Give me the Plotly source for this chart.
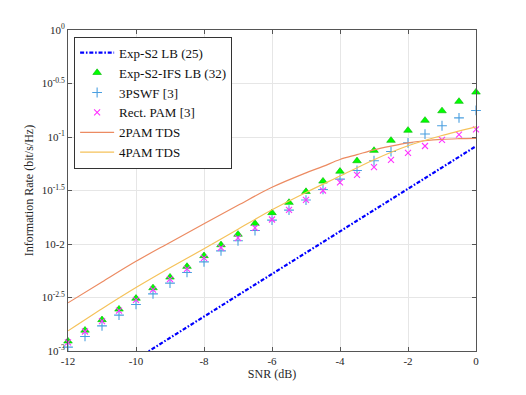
import plotly.graph_objects as go

# SNR grid for the marker series (dB)
snr_pts = [-12, -11.5, -11, -10.5, -10, -9.5, -9, -8.5, -8, -7.5, -7, -6.5, -6,
           -5.5, -5, -4.5, -4, -3.5, -3, -2.5, -2, -1.5, -1, -0.5, 0]

ifs_lb = [0.001236, 0.001563, 0.001959, 0.002460, 0.003105, 0.003890, 0.004898,
          0.006166, 0.007762, 0.009817, 0.01230, 0.01556, 0.01959, 0.02443,
          0.03090, 0.03864, 0.04775, 0.05984, 0.07482, 0.09290, 0.1153, 0.1429,
          0.1754, 0.2148, 0.2624]

pswf3 = [0.001086, 0.001368, 0.001718, 0.002163, 0.002723, 0.003420, 0.004305,
         0.005420, 0.006808, 0.008630, 0.01072, 0.01337, 0.01671, 0.02075,
         0.02576, 0.03236, 0.04036, 0.04864, 0.05998, 0.07311, 0.08831, 0.1066,
         0.1274, 0.1510, 0.1770]

rect_pam = [0.001202, 0.001521, 0.001901, 0.002388, 0.002999, 0.003741, 0.004688,
            0.005861, 0.007430, 0.009268, 0.01143, 0.01416, 0.01694, 0.02089,
            0.02588, 0.03162, 0.03758, 0.04416, 0.05224, 0.06124, 0.07112, 0.08241,
            0.09419, 0.1054, 0.1178]

# 2PAM TDS curve (denser where it bends)
snr_2pam = [-12, -11, -10, -9, -8, -7, -6, -5, -4.5, -4, -3.5, -3, -2.5, -2,
            -1.5, -1, -0.5, 0]
pam2_tds = [0.002818, 0.004416, 0.006887, 0.01035, 0.01549, 0.02301, 0.03388,
            0.04624, 0.05309, 0.06166, 0.06839, 0.07586, 0.08222, 0.08810,
            0.09226, 0.09506, 0.09638, 0.09705]

# 4PAM TDS curve
snr_4pam = [-12, -11, -10, -9, -8, -7, -6, -5, -4, -3, -2, -1, 0]
pam4_tds = [0.001542, 0.002483, 0.003917, 0.005998, 0.009016, 0.01374, 0.02089,
            0.03034, 0.04315, 0.06138, 0.08279, 0.1033, 0.1245]

# Exp-S2 lower bound
snr_lb = [-10, -8, -6, -4, -2, 0]
exp_s2_lb = [0.000839, 0.002099, 0.005248, 0.01312, 0.03281, 0.08204]

x_ticks = [-12, -10, -8, -6, -4, -2, 0]
x_ticktext = ["-12", "-10", "-8", "-6", "-4", "-2", "0"]
y_tickvals = [1e-3, 10 ** -2.5, 1e-2, 10 ** -1.5, 1e-1, 10 ** -0.5, 1]
y_ticktext = ["10<sup>-3</sup>", "10<sup>-2.5</sup>", "10-2", "10<sup>-1.5</sup>",
              "10<sup>-1</sup>", "10<sup>-0.5</sup>", "10<sup>0</sup>"]

FONT = "Liberation Serif"
TXT = "#262626"

fig = go.Figure()

fig.add_trace(go.Scatter(
    x=snr_lb, y=exp_s2_lb, mode="lines", name="Exp-S2 LB (25)",
    line=dict(color="#0000ff", width=2.2, dash="4px,1.8px,1.6px,1.8px"),
))
fig.add_trace(go.Scatter(
    x=snr_pts, y=ifs_lb, mode="markers", name="Exp-S2-IFS LB (32)",
    marker=dict(symbol="triangle-up", size=7.5, color="#00ff00",
                line=dict(color="#00b400", width=0.6)),
    cliponaxis=False,
))
fig.add_trace(go.Scatter(
    x=snr_pts, y=pswf3, mode="markers", name="3PSWF [3]",
    marker=dict(symbol="cross-thin-open", size=7, color="#4a9fe0",
                line=dict(color="#4a9fe0", width=1.1)),
    cliponaxis=False,
))
fig.add_trace(go.Scatter(
    x=snr_pts, y=rect_pam, mode="markers", name="Rect. PAM [3]",
    marker=dict(symbol="x-thin-open", size=6, color="#ff33ff",
                line=dict(color="#ff33ff", width=1.1)),
    cliponaxis=False,
))
fig.add_trace(go.Scatter(
    x=snr_2pam, y=pam2_tds, mode="lines", name="2PAM TDS",
    line=dict(color="#ec8b62", width=1.2, shape="spline", smoothing=1.0),
))
fig.add_trace(go.Scatter(
    x=snr_4pam, y=pam4_tds, mode="lines", name="4PAM TDS",
    line=dict(color="#f5c25a", width=1.2, shape="spline", smoothing=0.8),
))

axis_common = dict(
    showline=True, linecolor="#555555", linewidth=1, mirror="allticks",
    ticks="inside", ticklen=4, tickcolor="#555555",
    showgrid=True, gridcolor="#e6e6e6", gridwidth=1,
    zeroline=False, tickfont=dict(family=FONT, size=11, color=TXT),
)

fig.update_xaxes(
    range=[-12, 0], tickvals=x_ticks, ticktext=x_ticktext,
    title=dict(text="SNR (dB)", font=dict(family=FONT, size=12, color=TXT),
               standoff=3),
    **axis_common,
)
fig.update_yaxes(
    type="log", range=[-3, 0], tickvals=y_tickvals, ticktext=y_ticktext,
    title=dict(text="Information Rate (bit/s/Hz)",
               font=dict(family=FONT, size=12, color=TXT), standoff=5),
    **axis_common,
)

fig.update_layout(
    width=526, height=395,
    margin=dict(l=60, r=58, t=22, b=52),
    paper_bgcolor="white", plot_bgcolor="white",
    font=dict(family=FONT, size=12, color=TXT),
    legend=dict(
        x=0.015, y=0.979, xanchor="left", yanchor="top",
        bgcolor="white", bordercolor="#333333", borderwidth=1,
        font=dict(family=FONT, size=13, color="#111111"),
        tracegroupgap=0, itemwidth=34,
    ),
    showlegend=True,
)

fig.write_html("out.html")
